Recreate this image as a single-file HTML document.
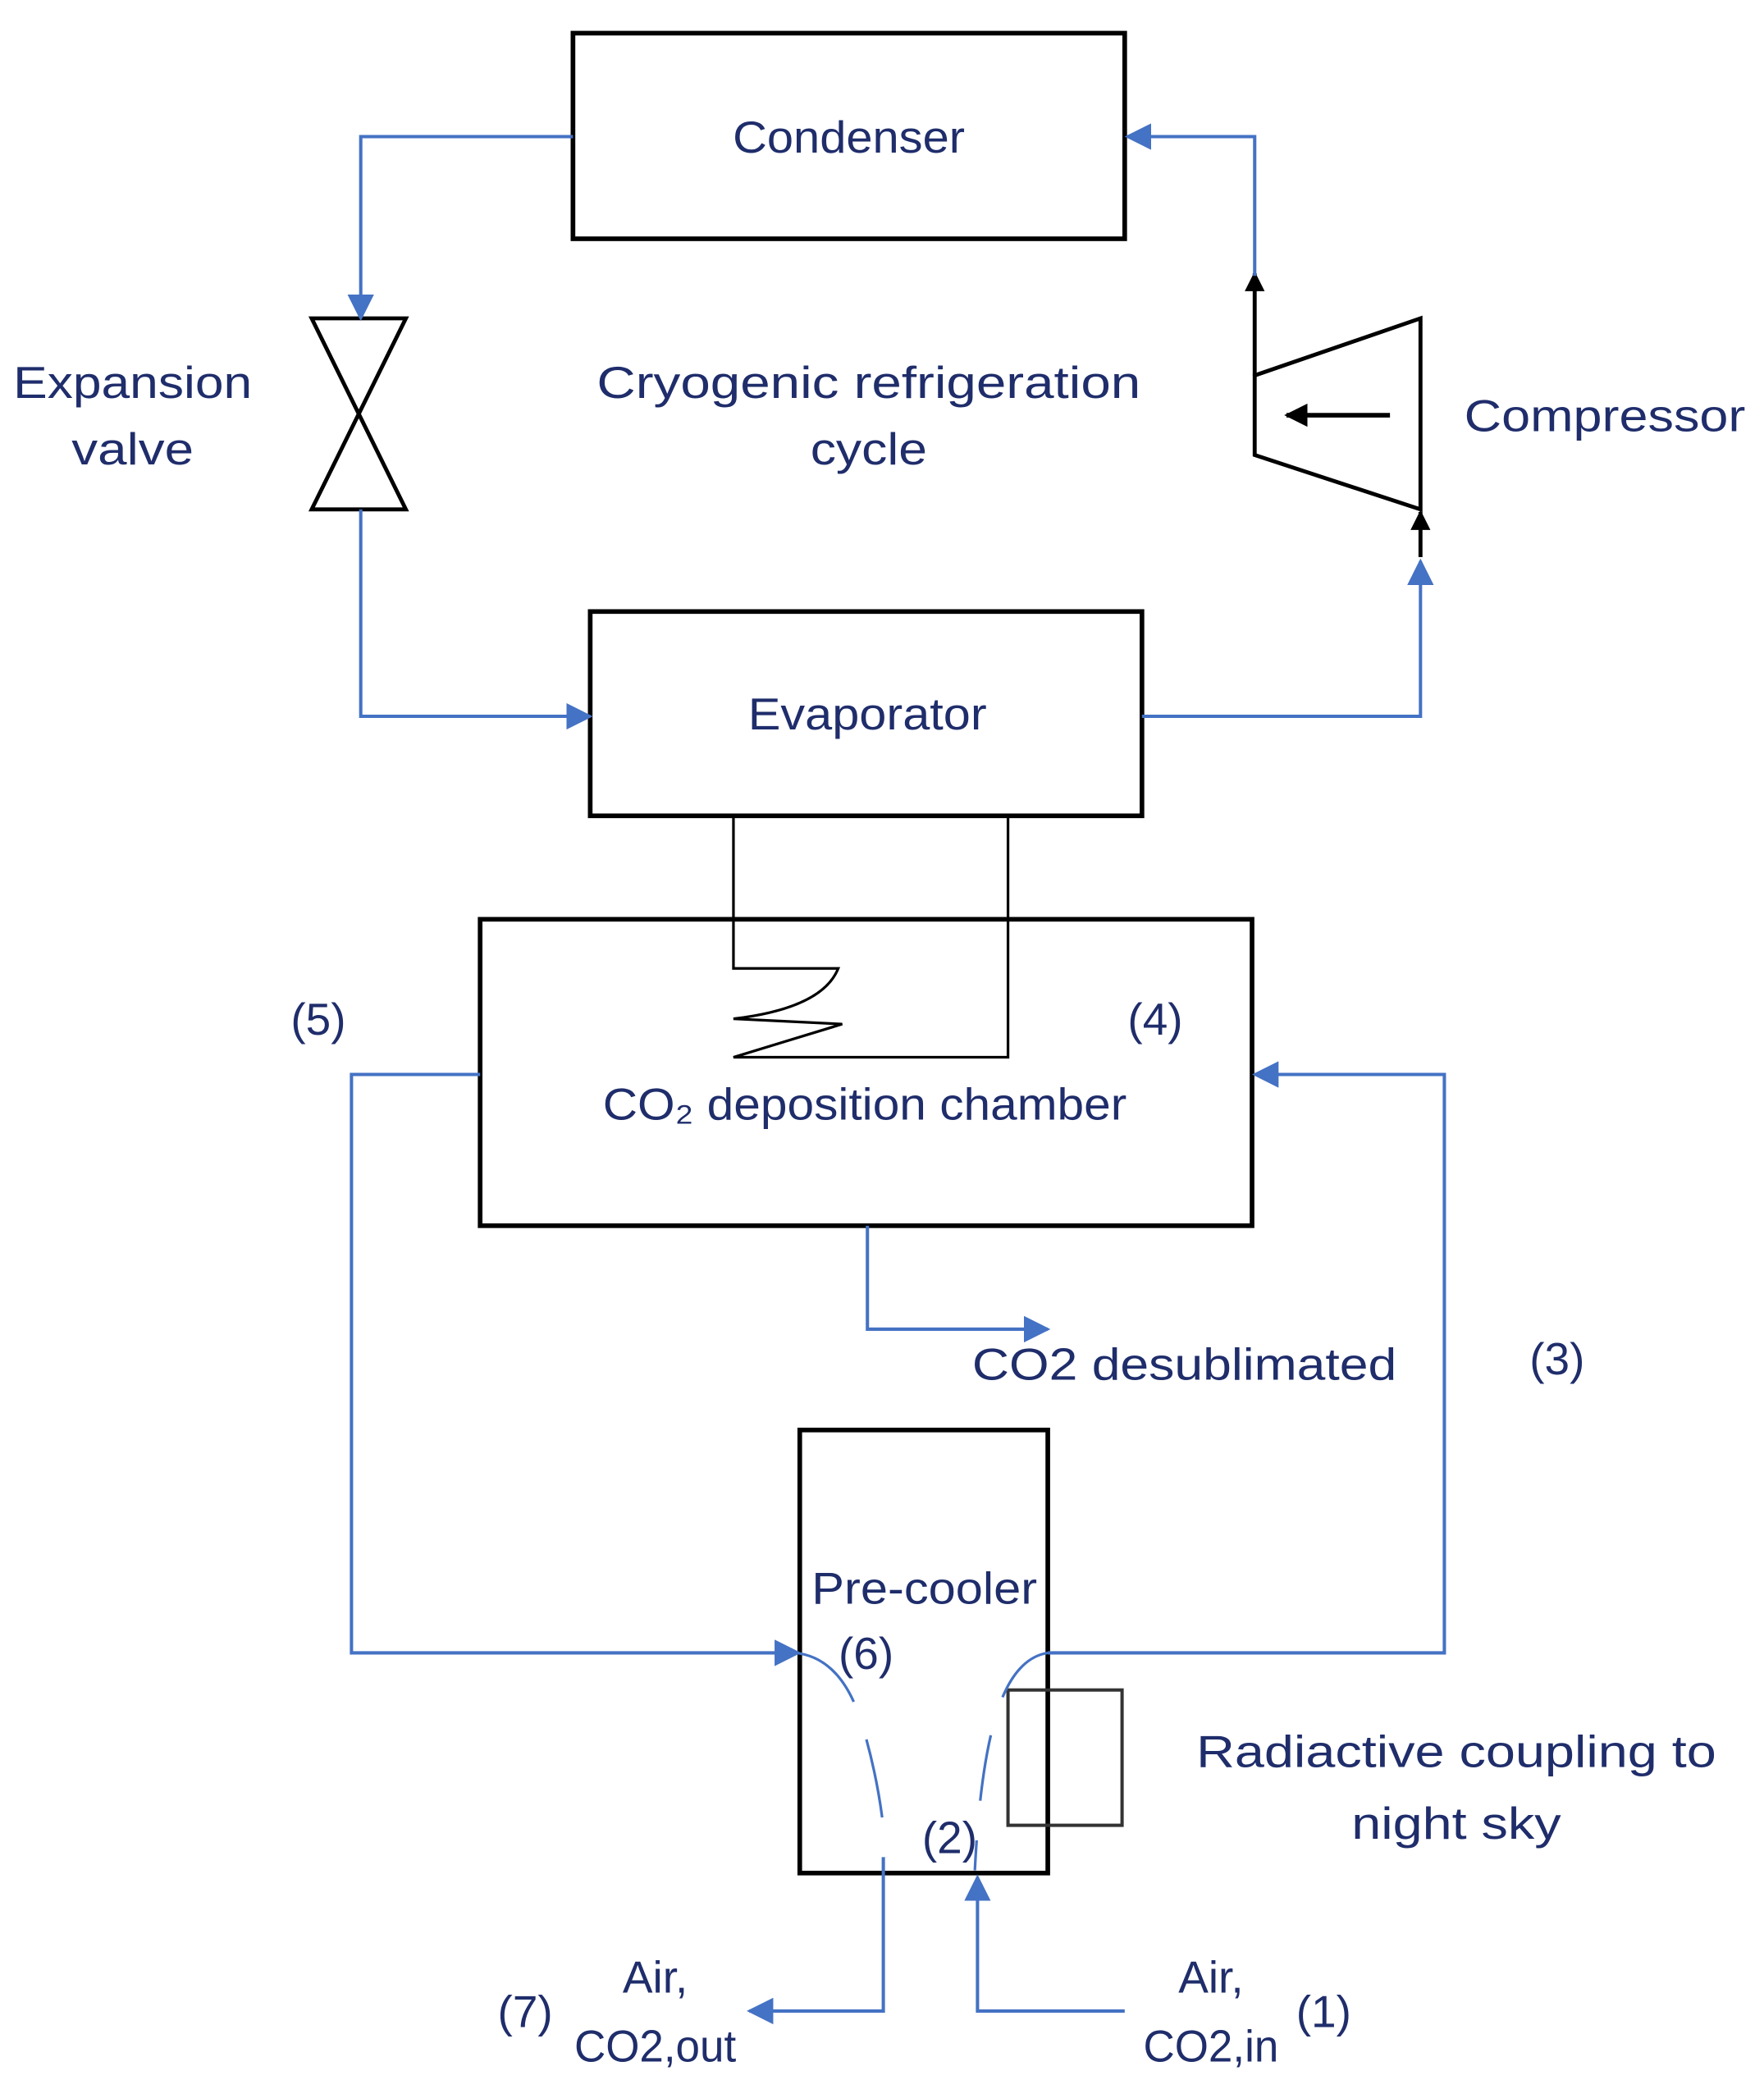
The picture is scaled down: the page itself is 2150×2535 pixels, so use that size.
<!DOCTYPE html>
<html><head><meta charset="utf-8"><style>html,body{margin:0;padding:0;background:#fff}svg{display:block}</style></head><body>
<svg width="2150" height="2535" viewBox="0 0 1330 1568" preserveAspectRatio="none" xmlns="http://www.w3.org/2000/svg">
<defs>
<marker id="ab" viewBox="0 0 10 10" refX="9" refY="5" markerWidth="8" markerHeight="8" orient="auto-start-reverse"><path d="M0,0L10,5L0,10z" fill="#4472c4"/></marker>
<marker id="ak" viewBox="0 0 10 10" refX="9" refY="5" markerWidth="5" markerHeight="5" orient="auto"><path d="M0,0L10,5L0,10z" fill="#000"/></marker>
</defs>
<g fill="none" stroke="#000" stroke-width="3.5">
<rect x="432" y="25" width="416" height="155"/>
<rect x="445" y="461" width="416" height="154"/>
<rect x="362" y="693" width="582" height="231"/>
<rect x="603" y="1078" width="187" height="334"/>
<path d="M235,240H306L235,384H306Z" stroke-width="3"/>
<path d="M946,283L1071,240V384L946,343Z" stroke-width="3"/>
</g>
<rect x="760" y="1274" width="86" height="102" fill="none" stroke="#333" stroke-width="2.5"/>
<g stroke="#000" fill="none">
<path d="M1048,313H970" stroke-width="3.5" marker-end="url(#ak)"/>
<path d="M946,283V206" stroke-width="3" marker-end="url(#ak)"/>
<path d="M1071,420V386" stroke-width="3" marker-end="url(#ak)"/>
<path d="M553,615V730H632Q620,760 553,768L635,772L553,797H760V615" stroke-width="2"/>
</g>
<g stroke="#4472c4" stroke-width="2.5" fill="none">
<path d="M432,103H272V240" marker-end="url(#ab)"/>
<path d="M272,384V540H445" marker-end="url(#ab)"/>
<path d="M861,540H1071V423" marker-end="url(#ab)"/>
<path d="M946,208V103H850" marker-end="url(#ab)"/>
<path d="M362,810H265V1246H602" marker-end="url(#ab)"/>
<path d="M790,1246H1089V810H946" marker-end="url(#ab)"/>
<path d="M654,924V1002H790" marker-end="url(#ab)"/>
<path d="M666,1400V1516H565" marker-end="url(#ab)"/>
<path d="M848,1516H737V1415" marker-end="url(#ab)"/>
<path d="M600,1246Q635,1250 650,1300T668,1400" stroke-width="2" stroke-dasharray="60,30"/>
<path d="M790,1246Q765,1250 752,1290T735,1410" stroke-width="2" stroke-dasharray="50,30"/>
</g>
<g font-family="Liberation Sans, sans-serif" font-size="34" fill="#1f2d6b" text-anchor="middle">
<text x="640" y="115" textLength="175" lengthAdjust="spacingAndGlyphs">Condenser</text>
<text x="654" y="550" textLength="180" lengthAdjust="spacingAndGlyphs">Evaporator</text>
<text x="100" y="300" textLength="180" lengthAdjust="spacingAndGlyphs">Expansion</text>
<text x="100" y="350" textLength="92" lengthAdjust="spacingAndGlyphs">valve</text>
<text x="655" y="300" textLength="410" lengthAdjust="spacingAndGlyphs">Cryogenic refrigeration</text>
<text x="655" y="350" textLength="88" lengthAdjust="spacingAndGlyphs">cycle</text>
<text x="1210" y="325" textLength="212" lengthAdjust="spacingAndGlyphs">Compressor</text>
<text x="240" y="780">(5)</text>
<text x="871" y="780">(4)</text>
<text x="652" y="844" textLength="395" lengthAdjust="spacingAndGlyphs">CO₂ deposition chamber</text>
<text x="893" y="1040" textLength="320" lengthAdjust="spacingAndGlyphs">CO2 desublimated</text>
<text x="1174" y="1036">(3)</text>
<text x="697" y="1209" textLength="170" lengthAdjust="spacingAndGlyphs">Pre-cooler</text>
<text x="653" y="1258">(6)</text>
<text x="716" y="1397">(2)</text>
<text x="1098" y="1332" textLength="392" lengthAdjust="spacingAndGlyphs">Radiactive coupling to</text>
<text x="1098" y="1386" textLength="158" lengthAdjust="spacingAndGlyphs">night sky</text>
<text x="494" y="1502">Air,</text>
<text x="494" y="1554" textLength="122" lengthAdjust="spacingAndGlyphs">CO2,out</text>
<text x="396" y="1528">(7)</text>
<text x="913" y="1502">Air,</text>
<text x="913" y="1554" textLength="102" lengthAdjust="spacingAndGlyphs">CO2,in</text>
<text x="998" y="1528">(1)</text>
</g>
</svg>
</body></html>
